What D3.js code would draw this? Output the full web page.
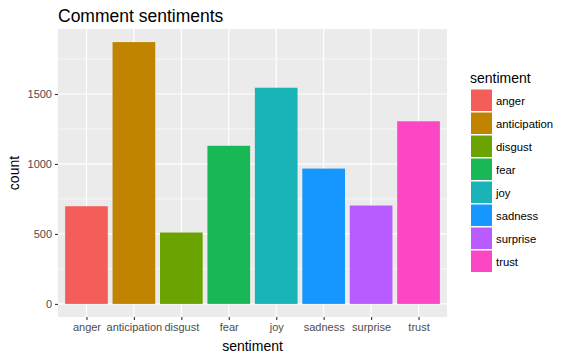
<!DOCTYPE html>
<html>
<head>
<meta charset="utf-8">
<script src="https://cdn.jsdelivr.net/npm/d3@7"></script>
<style>
  body { margin: 0; background: #fff; }
  text { font-family: "Liberation Sans", Arial, sans-serif; }
</style>
</head>
<body>
<div id="chart"></div>
<script>
  const categories = ["anger", "anticipation", "disgust", "fear", "joy", "sadness", "surprise", "trust"];
  const counts = [698, 1871, 510, 1130, 1545, 967, 703, 1305];
  const colors = ["#F35E5A", "#C08400", "#6BA300", "#18B857", "#19B4B8", "#1597FF", "#B85CFF", "#FD46C4"];
  const yTicks = [0, 500, 1000, 1500];
  const yMinor = [250, 750, 1250, 1750];

  const width = 570, height = 358;
  const panel = { left: 58, top: 29, right: 447, bottom: 317 };

  const svg = d3.select("#chart").append("svg")
    .attr("width", width)
    .attr("height", height);

  // ggplot style expansion: 5% continuous, 0.6 discrete
  const maxCount = d3.max(counts);
  const pad = maxCount * 0.05;
  const y = d3.scaleLinear()
    .domain([-pad, maxCount + pad])
    .range([panel.bottom, panel.top]);

  const step = (panel.right - panel.left) / (categories.length - 1 + 1.2);
  const x = d3.scalePoint()
    .domain(categories)
    .range([panel.left + 0.6 * step, panel.right - 0.6 * step]);
  const barWidth = step * 0.9;

  svg.append("rect")
    .attr("x", panel.left)
    .attr("y", panel.top)
    .attr("width", panel.right - panel.left)
    .attr("height", panel.bottom - panel.top)
    .attr("fill", "#EBEBEB");

  const grid = svg.append("g");
  grid.selectAll("line.minor").data(yMinor).enter().append("line")
    .attr("class", "minor")
    .attr("x1", panel.left).attr("x2", panel.right)
    .attr("y1", d => y(d)).attr("y2", d => y(d))
    .attr("stroke", "#fff").attr("stroke-width", 0.6);
  grid.selectAll("line.majory").data(yTicks).enter().append("line")
    .attr("class", "majory")
    .attr("x1", panel.left).attr("x2", panel.right)
    .attr("y1", d => y(d)).attr("y2", d => y(d))
    .attr("stroke", "#fff").attr("stroke-width", 1.2);
  grid.selectAll("line.majorx").data(categories).enter().append("line")
    .attr("class", "majorx")
    .attr("x1", d => x(d)).attr("x2", d => x(d))
    .attr("y1", panel.top).attr("y2", panel.bottom)
    .attr("stroke", "#fff").attr("stroke-width", 1.2);

  svg.append("g").selectAll("rect").data(categories).enter().append("rect")
    .attr("x", d => x(d) - barWidth / 2)
    .attr("width", barWidth)
    .attr("y", (d, i) => y(counts[i]))
    .attr("height", (d, i) => y(0) - y(counts[i]))
    .attr("fill", (d, i) => colors[i]);

  // axes
  const yAxis = svg.append("g")
    .attr("transform", "translate(" + panel.left + ",0)")
    .call(d3.axisLeft(y).tickValues(yTicks).tickFormat(d3.format("d")).tickSize(3).tickPadding(3));
  const xAxis = svg.append("g")
    .attr("transform", "translate(0," + panel.bottom + ")")
    .call(d3.axisBottom(x).tickSize(3).tickPadding(3));
  for (const ax of [yAxis, xAxis]) {
    ax.select(".domain").remove();
    ax.selectAll(".tick line").attr("stroke", "#333").attr("stroke-width", 1.1);
    ax.selectAll(".tick text").attr("fill", "#4d4d4d").style("font-size", "11px")
      .style("font-family", "Liberation Sans, Arial, sans-serif");
  }

  svg.append("text")
    .attr("x", panel.left)
    .attr("y", 22)
    .style("font-size", "17.5px")
    .attr("fill", "#000")
    .text("Comment sentiments");

  svg.append("text")
    .attr("x", (panel.left + panel.right) / 2)
    .attr("y", 351)
    .attr("text-anchor", "middle")
    .style("font-size", "14px")
    .text("sentiment");

  svg.append("text")
    .attr("transform", "translate(19," + ((panel.top + panel.bottom) / 2) + ") rotate(-90)")
    .attr("text-anchor", "middle")
    .style("font-size", "14px")
    .text("count");

  // legend
  const legend = svg.append("g").attr("transform", "translate(470,0)");
  legend.append("text")
    .attr("x", 0).attr("y", 83)
    .style("font-size", "14px")
    .text("sentiment");
  const keys = legend.selectAll("g.key").data(categories).enter().append("g")
    .attr("class", "key")
    .attr("transform", (d, i) => "translate(0," + (89.5 + i * 23) + ")");
  keys.append("rect")
    .attr("x", 1).attr("y", 0)
    .attr("width", 21).attr("height", 21.5)
    .attr("fill", (d, i) => colors[i]);
  keys.append("text")
    .attr("x", 26).attr("y", 15)
    .style("font-size", "11.3px")
    .attr("fill", "#000")
    .text(d => d);
</script>
</body>
</html>
